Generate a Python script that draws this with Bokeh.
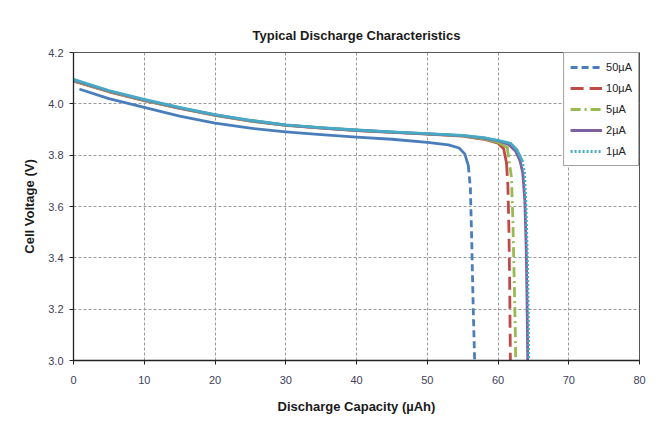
from bokeh.plotting import figure
from bokeh.models import Legend, LegendItem, NumeralTickFormatter
from bokeh.embed import file_html
from bokeh.resources import INLINE

# ---- data ----
series_names = ["50µA", "10µA", "5µA", "2µA", "1µA"]

cap_50 = [1, 5, 10, 15, 20, 25, 30, 35, 40, 45, 50, 53, 54.5, 55.3, 55.8, 56.1, 56.3, 56.5, 56.7]
v_50 = [4.056, 4.02, 3.986, 3.952, 3.925, 3.905, 3.891, 3.88, 3.87, 3.862, 3.85, 3.84, 3.828, 3.805, 3.76, 3.67, 3.45, 3.2, 3.0]

cap_10 = [0, 5, 10, 15, 20, 25, 30, 35, 40, 45, 50, 55, 58, 60, 60.8, 61.2, 61.4, 61.55, 61.65, 61.75]
v_10 = [4.088, 4.047, 4.012, 3.982, 3.955, 3.933, 3.916, 3.905, 3.896, 3.889, 3.882, 3.874, 3.862, 3.847, 3.825, 3.77, 3.68, 3.5, 3.3, 3.0]

cap_5 = [0, 5, 10, 15, 20, 25, 30, 35, 40, 45, 50, 55, 58, 60, 61.3, 61.9, 62.1, 62.3, 62.45, 62.5]
v_5 = [4.09, 4.048, 4.013, 3.983, 3.956, 3.934, 3.917, 3.906, 3.897, 3.89, 3.883, 3.875, 3.864, 3.85, 3.83, 3.714, 3.55, 3.3, 3.1, 3.0]

cap_2 = [0, 5, 10, 15, 20, 25, 30, 35, 40, 45, 50, 55, 58, 60, 61.5, 62.5, 63.1, 63.5, 63.8, 64.0, 64.12, 64.2]
v_2 = [4.092, 4.05, 4.015, 3.984, 3.957, 3.935, 3.917, 3.906, 3.897, 3.89, 3.883, 3.876, 3.866, 3.856, 3.842, 3.815, 3.78, 3.73, 3.62, 3.42, 3.2, 3.0]

cap_1 = [0, 5, 10, 15, 20, 25, 30, 35, 40, 45, 50, 55, 58, 60, 61.8, 62.7, 63.4, 63.75, 63.95, 64.15, 64.28, 64.35]
v_1 = [4.095, 4.052, 4.017, 3.986, 3.958, 3.936, 3.918, 3.907, 3.898, 3.891, 3.884, 3.877, 3.868, 3.858, 3.846, 3.82, 3.78, 3.73, 3.61, 3.4, 3.2, 3.0]

x_ticks = [0, 10, 20, 30, 40, 50, 60, 70, 80]
y_ticks = [3.0, 3.2, 3.4, 3.6, 3.8, 4.0, 4.2]

caps = [cap_50, cap_10, cap_5, cap_2, cap_1]
volts = [v_50, v_10, v_5, v_2, v_1]
colors = ["#4A7EBB", "#BE4B48", "#98B954", "#7D60A0", "#46AAC5"]
dashes = ["7 4", "13 6", "10 4 2 4", "solid", "2 2"]
split_v = 3.76  # plateau drawn solid (as in the original), steep part with the series' dash

FONT = "Liberation Sans"

p = figure(width=651, height=426, x_range=(0, 80), y_range=(3.0, 4.2),
           output_backend="svg", toolbar_location=None,
           min_border_left=73, min_border_right=12, min_border_top=52, min_border_bottom=66)

p.title.text = "Typical Discharge Characteristics"
p.title.align = "center"
p.title.text_font = FONT
p.title.text_font_size = "13px"
p.title.text_font_style = "bold"
p.title.text_color = "#1a1a1a"
p.title.standoff = 20

p.background_fill_color = "white"
p.border_fill_color = "white"
p.outline_line_color = "#555555"
p.outline_line_width = 1

p.xaxis.ticker = x_ticks
p.yaxis.ticker = y_ticks
p.yaxis.formatter = NumeralTickFormatter(format="0.0")

for ax in (p.xaxis, p.yaxis):
    ax.axis_line_color = "#222222"
    ax.axis_line_width = 1.3
    ax.major_tick_line_color = "#222222"
    ax.major_tick_in = 0
    ax.major_tick_out = 4
    ax.minor_tick_line_color = None
    ax.major_label_text_font = FONT
    ax.major_label_text_font_size = "11px"
    ax.major_label_text_color = "#40405a"
    ax.axis_label_text_font = FONT
    ax.axis_label_text_font_size = "13px"
    ax.axis_label_text_font_style = "bold"
    ax.axis_label_text_color = "#1a1a1a"

p.xaxis.axis_label = "Discharge Capacity (µAh)"
p.yaxis.axis_label = "Cell Voltage (V)"
p.xaxis.major_label_standoff = 11
p.xaxis.axis_label_standoff = 12
p.yaxis.major_label_standoff = 6
p.yaxis.axis_label_standoff = 8

p.xgrid.grid_line_color = "#9a9a9a"
p.ygrid.grid_line_color = "#9a9a9a"
p.xgrid.grid_line_dash = "3 2"
p.ygrid.grid_line_dash = "3 2"
p.xgrid.grid_line_width = 1
p.ygrid.grid_line_width = 1

items = []
for name, cx, vy, col, d in zip(series_names, caps, volts, colors, dashes):
    head_x = [c for c, v in zip(cx, vy) if v >= split_v]
    head_y = [v for v in vy if v >= split_v]
    k = len(head_x)
    tail_x = cx[k - 1:]
    tail_y = vy[k - 1:]
    p.line(head_x, head_y, line_color=col, line_width=2.8, line_join="round", line_cap="round")
    r = p.line(tail_x, tail_y, line_color=col, line_width=2.8, line_dash=d)
    items.append(LegendItem(label=name, renderers=[r]))

legend = Legend(items=items, location="top_right")
legend.margin = 0
legend.padding = 6
legend.spacing = 5
legend.glyph_height = 16
legend.glyph_width = 32
legend.label_standoff = 4
legend.label_height = 16
legend.label_text_font = FONT
legend.label_text_font_size = "11px"
legend.label_text_color = "#222222"
legend.border_line_color = "#444444"
legend.border_line_width = 1
legend.background_fill_color = "white"
legend.background_fill_alpha = 1.0
p.add_layout(legend)

open("out.html", "w").write(file_html(p, INLINE))
